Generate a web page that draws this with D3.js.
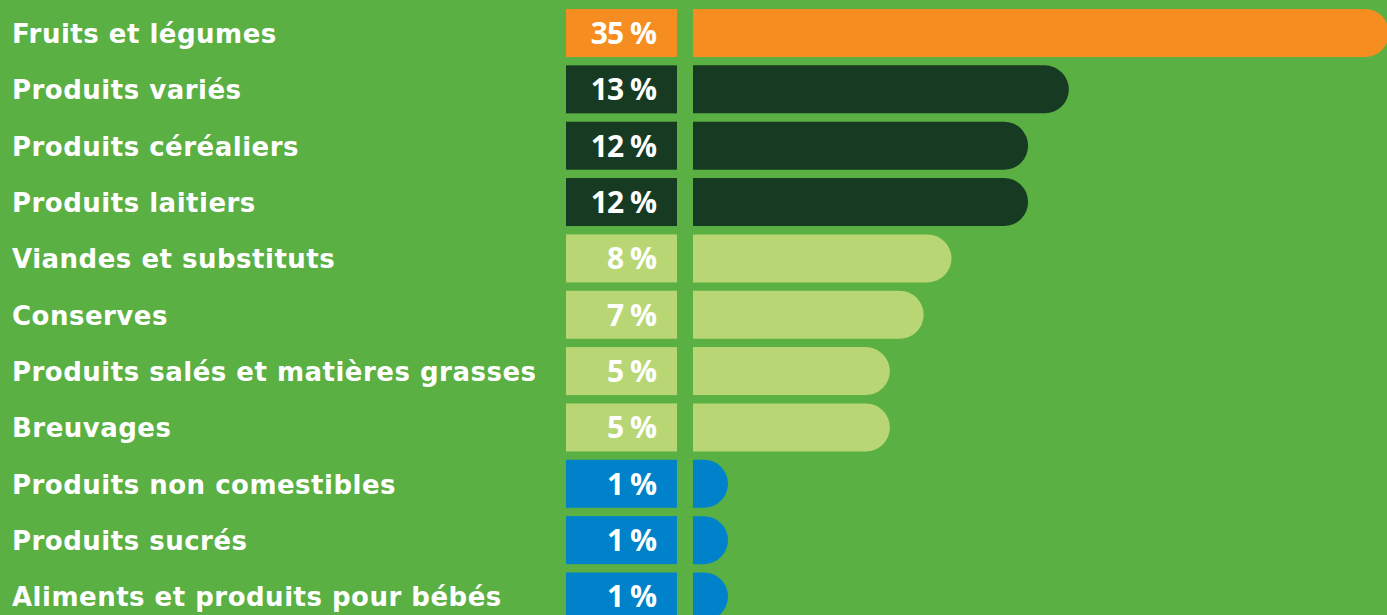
<!DOCTYPE html>
<html>
<head>
<meta charset="utf-8">
<script src="https://cdn.jsdelivr.net/npm/d3@7"></script>
<style>
  html, body { margin: 0; padding: 0; background: #5AB043; overflow: hidden; }
  svg { display: block; }
  .cat { fill: #fff; font-family: "DejaVu Sans", sans-serif; font-weight: 700; font-size: 26px; }
  .val { fill: #fff; font-family: "Open Sans", sans-serif; font-weight: 700; font-size: 30px; letter-spacing: -1px; }
</style>
</head>
<body>
<svg></svg>
<script>
const CATEGORIES = [
  'Fruits et légumes',
  'Produits variés',
  'Produits céréaliers',
  'Produits laitiers',
  'Viandes et substituts',
  'Conserves',
  'Produits salés et matières grasses',
  'Breuvages',
  'Produits non comestibles',
  'Produits sucrés',
  'Aliments et produits pour bébés',
];
const VALUE_LABELS = ['35 %', '13 %', '12 %', '12 %', '8 %', '7 %', '5 %', '5 %', '1 %', '1 %', '1 %'];
// bar lengths as drawn in the picture (not proportional to the printed %)
const BAR_VALUES = [35, 18.9, 16.85, 16.85, 13.0, 11.6, 9.9, 9.9, 1.76, 1.76, 1.76];
const GROUPS = ['top', 'high', 'high', 'high', 'mid', 'mid', 'mid', 'mid', 'low', 'low', 'low'];

const COLORS = { top: '#F68D20', high: '#173A22', mid: '#B8D774', low: '#0082CA' };

const WIDTH = 1387;
const HEIGHT = 615;

const svg = d3.select('svg').attr('width', WIDTH).attr('height', HEIGHT);

svg.append('rect').attr('width', WIDTH).attr('height', HEIGHT).attr('fill', '#5AB043');

const y = d3.scaleBand().domain(CATEGORIES).range([9, 620.5]).paddingInner(0.148).paddingOuter(0);
const x = d3.scaleLinear().domain([0, 35]).range([693, 1389]);

const rows = CATEGORIES.map((c, i) => ({ cat: c, label: VALUE_LABELS[i], value: BAR_VALUES[i], group: GROUPS[i] }));
const h = y.bandwidth();
const r = h / 2;

// category names
const cats = svg.selectAll('.cat')
  .data(rows)
  .enter()
  .append('text')
  .classed('cat', true)
  .attr('x', 12)
  .attr('y', d => y(d.cat) + h / 2 + 10)
  .text(d => d.cat);

// adjust tracking so the longest name fits its original width
let longest = null, lw = 0;
cats.each(function () { const w = this.getComputedTextLength(); if (w > lw) { lw = w; longest = this; } });
const n = longest.textContent.length;
cats.style('letter-spacing', ((524 - lw) / (n - 1)) + 'px');

// value boxes
svg.selectAll('.box')
  .data(rows)
  .enter()
  .append('rect')
  .classed('box', true)
  .attr('x', 566)
  .attr('y', d => y(d.cat))
  .attr('width', 111)
  .attr('height', h)
  .attr('fill', d => COLORS[d.group]);

svg.selectAll('.val')
  .data(rows)
  .enter()
  .append('text')
  .classed('val', true)
  .attr('x', 656)
  .attr('y', d => y(d.cat) + h / 2 + 11)
  .attr('text-anchor', 'end')
  .text(d => d.label);

// bars: flat left end, round right end
svg.selectAll('.bar')
  .data(rows)
  .enter()
  .append('path')
  .classed('bar', true)
  .attr('fill', d => COLORS[d.group])
  .attr('d', d => {
    const x0 = x(0), x1 = x(d.value), y0 = y(d.cat);
    const rr = Math.min(r, x1 - x0);
    return `M${x0},${y0}H${x1 - rr}A${rr},${r} 0 0 1 ${x1},${y0 + r}A${rr},${r} 0 0 1 ${x1 - rr},${y0 + h}H${x0}Z`;
  });
</script>
</body>
</html>
